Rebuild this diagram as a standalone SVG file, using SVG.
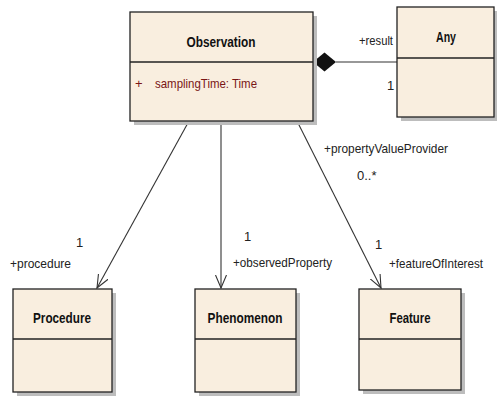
<svg xmlns="http://www.w3.org/2000/svg" width="497" height="396" viewBox="0 0 497 396">
<style>
.sh{fill:#bdbdbd}
.bx{fill:#f9eedf;stroke:#222;stroke-width:1.3}
.dv{stroke:#222;stroke-width:1.3}
.nm{font-family:"Liberation Sans",Arial,sans-serif;font-size:14.5px;font-weight:bold;fill:#111;text-anchor:middle}
.lb{font-family:"Liberation Sans",Arial,sans-serif;font-size:13px;fill:#222}
.at{font-family:"Liberation Sans",Arial,sans-serif;font-size:13px;fill:#7a1616}
.ln{stroke:#333;stroke-width:1.1;fill:none}
</style>
<defs>
<marker id="open" viewBox="0 0 14 14" refX="13" refY="7" markerWidth="14" markerHeight="14" markerUnits="userSpaceOnUse" orient="auto">
<path d="M0,1.5 L13,7 L0,12.5" fill="none" stroke="#333" stroke-width="1.1"/>
</marker>
</defs>
<rect width="497" height="396" fill="#fff"/>
<g id="connectors">
<line class="ln" x1="189" y1="121" x2="97" y2="288" marker-end="url(#open)"/>
<line class="ln" x1="221" y1="121" x2="221" y2="288" marker-end="url(#open)"/>
<line class="ln" x1="297" y1="121" x2="381" y2="288" marker-end="url(#open)"/>
<line class="ln" x1="336" y1="62" x2="397" y2="62"/>
<path d="M313,62 L324.5,52.5 L336,62 L324.5,71.5 Z" fill="#111"/>
<text class="lb" x="359" y="45" textLength="34" lengthAdjust="spacingAndGlyphs">+result</text>
<text class="lb" x="387" y="90">1</text>
<text class="lb" x="324" y="153" textLength="124" lengthAdjust="spacingAndGlyphs">+propertyValueProvider</text>
<text class="lb" x="357" y="180">0..*</text>
<text class="lb" x="76" y="247">1</text>
<text class="lb" x="10" y="268" textLength="61" lengthAdjust="spacingAndGlyphs">+procedure</text>
<text class="lb" x="244" y="241">1</text>
<text class="lb" x="233" y="267" textLength="99" lengthAdjust="spacingAndGlyphs">+observedProperty</text>
<text class="lb" x="375" y="249">1</text>
<text class="lb" x="389" y="268" textLength="94" lengthAdjust="spacingAndGlyphs">+featureOfInterest</text>
</g>
<g id="observation">
<rect class="sh" x="134" y="16" width="183" height="109"/>
<rect class="bx" x="130" y="12" width="183" height="109"/>
<line class="dv" x1="130" y1="62" x2="313" y2="62"/>
<text class="nm" x="221" y="47" textLength="69" lengthAdjust="spacingAndGlyphs">Observation</text>
<text class="at" x="135" y="88">+</text>
<text class="at" x="155" y="88" textLength="102" lengthAdjust="spacingAndGlyphs">samplingTime: Time</text>
</g>
<g id="any">
<rect class="sh" x="401" y="11" width="96" height="110"/>
<rect class="bx" x="397" y="7" width="97" height="110"/>
<line class="dv" x1="397" y1="58" x2="494" y2="58"/>
<text class="nm" x="446" y="42" textLength="20" lengthAdjust="spacingAndGlyphs">Any</text>
</g>
<g id="procedure">
<rect class="sh" x="17" y="293" width="99" height="103"/>
<rect class="bx" x="13" y="289" width="99" height="103"/>
<line class="dv" x1="13" y1="339" x2="112" y2="339"/>
<text class="nm" x="62" y="323" textLength="58" lengthAdjust="spacingAndGlyphs">Procedure</text>
</g>
<g id="phenomenon">
<rect class="sh" x="199" y="293" width="101" height="103"/>
<rect class="bx" x="195" y="289" width="101" height="103"/>
<line class="dv" x1="195" y1="339" x2="296" y2="339"/>
<text class="nm" x="245" y="323" textLength="75" lengthAdjust="spacingAndGlyphs">Phenomenon</text>
</g>
<g id="feature">
<rect class="sh" x="363" y="293" width="102" height="101"/>
<rect class="bx" x="359" y="289" width="102" height="101"/>
<line class="dv" x1="359" y1="339" x2="461" y2="339"/>
<text class="nm" x="410" y="323" textLength="41" lengthAdjust="spacingAndGlyphs">Feature</text>
</g>
</svg>
